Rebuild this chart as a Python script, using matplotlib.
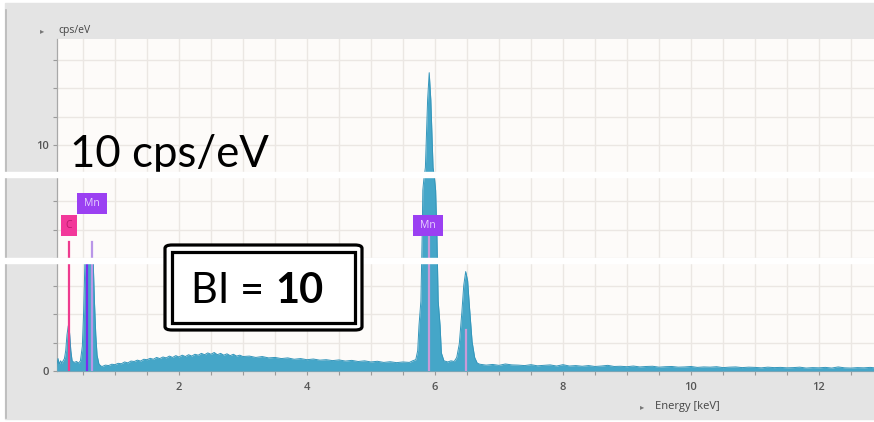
import numpy as np
import matplotlib.pyplot as plt
from matplotlib.patches import Rectangle, FancyBboxPatch

# spectrum (keV, cps/eV)
low_kev = [0.09, 0.11, 0.13, 0.15, 0.17, 0.19, 0.21, 0.23, 0.25, 0.27, 0.29, 0.31, 0.33,
           0.36, 0.40, 0.43, 0.46, 0.49, 0.51, 0.53, 0.56, 0.60, 0.64, 0.66, 0.68,
           0.70, 0.72, 0.75, 0.78]
low_cps = [0.2, 0.55, 0.3, 0.45, 0.35, 0.45, 0.55, 0.9, 1.6, 2.0, 1.7, 0.9, 0.45,
           0.38, 0.42, 0.35, 0.45, 1.1, 2.6, 4.8, 4.8, 4.8, 4.8, 4.8, 3.0,
           1.6, 0.7, 0.3, 0.22]

bg_kev = [0.8, 0.85, 0.9, 0.95, 1.0, 1.05, 1.1, 1.15, 1.2, 1.25, 1.3, 1.35, 1.4, 1.45, 1.5,
          1.55, 1.6, 1.65, 1.7, 1.75, 1.8, 1.85, 1.9, 1.95, 2.0, 2.05, 2.1, 2.15, 2.2,
          2.25, 2.3, 2.35, 2.4, 2.45, 2.5, 2.55, 2.6, 2.65, 2.7, 2.75, 2.8, 2.85, 2.9,
          2.95, 3.0, 3.1, 3.2, 3.3, 3.4, 3.5, 3.6, 3.7, 3.8, 3.9, 4.0, 4.1, 4.2, 4.3,
          4.4, 4.5, 4.6, 4.7, 4.8, 4.9, 5.0, 5.1, 5.2, 5.3, 5.4, 5.5, 5.6, 5.65]
bg_cps = [0.2, 0.26, 0.24, 0.3, 0.28, 0.34, 0.32, 0.4, 0.36, 0.44, 0.42, 0.48, 0.44, 0.52, 0.5,
          0.56, 0.52, 0.6, 0.55, 0.62, 0.58, 0.66, 0.6, 0.68, 0.62, 0.7, 0.64, 0.72, 0.66,
          0.74, 0.7, 0.78, 0.72, 0.8, 0.74, 0.82, 0.72, 0.78, 0.7, 0.76, 0.68, 0.74, 0.66,
          0.7, 0.64, 0.66, 0.6, 0.64, 0.58, 0.6, 0.55, 0.58, 0.52, 0.55, 0.5, 0.53, 0.48,
          0.5, 0.46, 0.49, 0.44, 0.47, 0.42, 0.45, 0.4, 0.43, 0.38, 0.41, 0.37, 0.4, 0.38, 0.45]

mnka_kev = [5.70, 5.73, 5.75, 5.78, 5.80, 5.81, 5.83, 5.85, 5.885, 5.91, 5.935, 5.97, 5.99,
            6.01, 6.03, 6.05, 6.08, 6.10, 6.14, 6.2, 6.25]
mnka_cps = [0.5, 0.9, 2.0, 3.1, 6.0, 8.0, 8.6, 9.0, 12.0, 13.2, 12.0, 9.0, 8.6,
            8.0, 6.0, 3.1, 2.0, 0.8, 0.45, 0.4, 0.45]

mnkb_kev = [6.30, 6.34, 6.38, 6.42, 6.45, 6.48, 6.51, 6.54, 6.58, 6.62, 6.66]
mnkb_cps = [0.42, 0.6, 1.2, 2.6, 3.8, 4.4, 4.0, 2.8, 1.3, 0.6, 0.35]

tail_kev = [6.7, 6.8, 6.9, 7.0, 7.1, 7.2, 7.3, 7.4, 7.5, 7.6, 7.7, 7.8, 7.9, 8.0, 8.1, 8.2,
            8.3, 8.4, 8.5, 8.6, 8.7, 8.8, 8.9, 9.0, 9.1, 9.2, 9.3, 9.4, 9.5, 9.6, 9.7,
            9.8, 9.9, 10.0, 10.1, 10.2, 10.3, 10.4, 10.5, 10.6, 10.7, 10.8, 10.9, 11.0,
            11.1, 11.2, 11.3, 11.4, 11.5, 11.6, 11.7, 11.8, 11.9, 12.0, 12.1, 12.2, 12.3,
            12.4, 12.5, 12.6, 12.7, 12.8, 12.9]
tail_cps = [0.3, 0.26, 0.29, 0.25, 0.31, 0.27, 0.26, 0.24, 0.28, 0.23, 0.25, 0.27, 0.22, 0.28,
            0.22, 0.24, 0.21, 0.24, 0.2, 0.22, 0.25, 0.2, 0.21, 0.19, 0.22, 0.18, 0.2, 0.21,
            0.17, 0.19, 0.2, 0.17, 0.18, 0.2, 0.16, 0.18, 0.17, 0.19, 0.15, 0.17, 0.18, 0.15,
            0.17, 0.16, 0.14, 0.17, 0.15, 0.16, 0.14, 0.15, 0.17, 0.13, 0.15, 0.14, 0.16,
            0.13, 0.18, 0.14, 0.13, 0.15, 0.14, 0.16, 0.13]

# element lines
line_kev = [0.277, 0.556, 0.637, 5.899, 6.490]
line_top = [5.7, 4.75, 5.7, 5.97, 1.8]
line_col = ['#ee3b8e', '#7a2cf0', '#b996e8', '#c99ad8', '#c99ad8']

label_kev = [0.28, 0.64, 5.89]
label_txt = ['C', 'Mn', 'Mn']
label_bottom = [5.97, 6.95, 5.97]

energy = np.array(low_kev + bg_kev + mnka_kev + mnkb_kev + tail_kev)
cps = np.array(low_cps + bg_cps + mnka_cps + mnkb_cps + tail_cps)

W, H = 874, 422


def fx(x):
    return x / W


def fy(y):
    return 1 - y / H


fig = plt.figure(figsize=(W / 100, H / 100), dpi=100, facecolor='white')

# window frame
fig.add_artist(Rectangle((fx(5), fy(419)), 1, fy(3) - fy(419), transform=fig.transFigure,
                         color='#e4e4e4', zorder=-2))
fig.add_artist(plt.Line2D([fx(5.5), fx(5.5)], [fy(10), fy(418)], transform=fig.transFigure,
                          color='#b8b8b8', lw=1.2, zorder=-1))

ax = fig.add_axes([fx(57), fy(371), fx(874) - fx(57), fy(39) - fy(371)])
ax.set_facecolor('#fdfbf9')
ax.set_xlim(0.094, 12.86)
ax.set_ylim(0, 14.69)

ax.fill_between(energy, cps, color='#45a6c8', lw=0, zorder=3)
ax.plot(energy, cps, color='#3496bb', lw=0.7, zorder=3)

for k, top, c in zip(line_kev, line_top, line_col):
    ax.plot([k, k], [0, top], color=c, lw=1.6, zorder=4)

for k, t, b in zip(label_kev, label_txt, label_bottom):
    hw = 0.125 if len(t) == 1 else 0.235
    fc = '#f2389a' if t == 'C' else '#9b40f2'
    tc = '#b81a6c' if t == 'C' else '#e6d2ff'
    ax.add_patch(Rectangle((k - hw, b), 2 * hw, 0.93, facecolor=fc, edgecolor='none', zorder=5))
    ax.text(k, b + 0.47, t, ha='center', va='center', fontsize=7.5, color=tc,
            family='Open Sans', zorder=6)

ax.set_xticks(np.arange(2, 13, 2))
ax.set_xticks(np.arange(0.5, 13, 0.5), minor=True)
yt = np.arange(0, 14.5, 1.25)
ax.set_yticks(yt)
ax.set_yticklabels(['0' if v == 0 else '10' if v == 10 else '' for v in yt])
ax.grid(True, which='both', axis='x', color='#ebe7e3', lw=1, zorder=0)
ax.grid(True, which='major', axis='y', color='#ebe7e3', lw=1, zorder=0)
ax.set_axisbelow(True)
ax.tick_params(which='both', direction='out', length=3, color='#9a9a9a', width=0.8,
               labelsize=8, labelcolor='#555555', pad=5)
ax.tick_params(axis='y', pad=3)
for lab in ax.get_xticklabels() + ax.get_yticklabels():
    lab.set_fontweight('semibold')
    lab.set_family('Open Sans')
for s in ['top', 'right']:
    ax.spines[s].set_visible(False)
for s in ['left', 'bottom']:
    ax.spines[s].set_color('#a8a8a8')
    ax.spines[s].set_linewidth(0.9)

# axis captions
fig.text(fx(42), fy(31), '\u25b8', fontsize=6, color='#777777', va='center', ha='center',
         family='DejaVu Sans')
fig.text(fx(58), fy(31), 'cps/eV', fontsize=7.5, color='#444444', va='center',
         family='Open Sans')
fig.text(fx(642), fy(407), '\u25b8', fontsize=6, color='#777777', va='center', ha='center',
         family='DejaVu Sans')
fig.text(fx(655), fy(407), 'Energy [keV]', fontsize=8, color='#444444', va='center',
         family='Open Sans')

# overlay annotations
fig.text(fx(70), fy(167), '10 cps/eV', fontsize=31.5, color='black', va='baseline',
         family='Lato', zorder=2)

for y0, y1 in [(172, 177), (258, 263)]:
    fig.add_artist(Rectangle((0, fy(y1)), 1, fy(y0) - fy(y1), transform=fig.transFigure,
                             color='white', zorder=3))

fig.add_artist(FancyBboxPatch((fx(165), fy(330)), fx(362) - fx(165), fy(245) - fy(330),
                              boxstyle='round,pad=0,rounding_size=0.008',
                              transform=fig.transFigure, facecolor='white',
                              edgecolor='black', lw=2.3, zorder=4))
fig.add_artist(Rectangle((fx(172), fy(323)), fx(355) - fx(172), fy(252) - fy(323),
                         transform=fig.transFigure, facecolor='none',
                         edgecolor='black', lw=2.3, zorder=5))
fig.text(fx(191), fy(303), 'BI = ', fontsize=30, color='black', va='baseline',
         family='Lato', zorder=6)
fig.text(fx(275), fy(303), '10', fontsize=30, color='black', va='baseline',
         family='Lato', fontweight='bold', zorder=6)

fig.savefig('out.png', dpi=100)
